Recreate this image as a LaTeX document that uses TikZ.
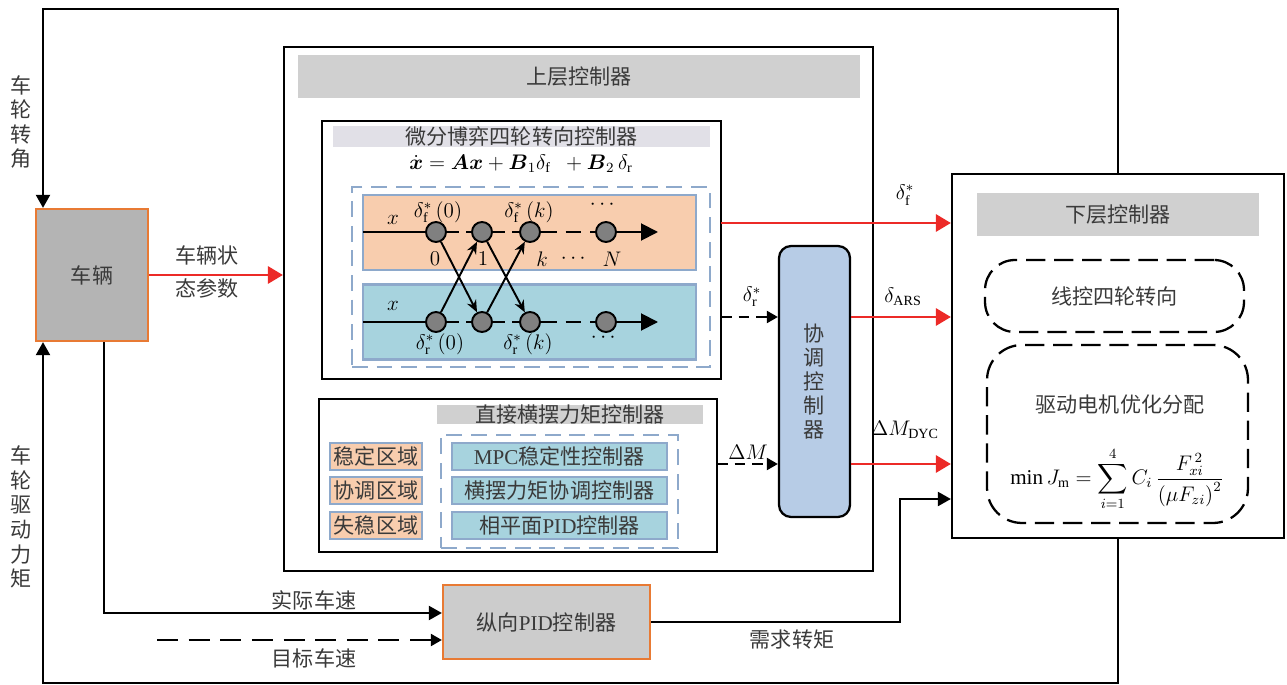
\documentclass[tikz,border=0pt]{standalone}
\usepackage{amsmath}
\usepackage{fontspec}
\setmainfont{Liberation Serif}
\newfontfamily\cjk{Noto Sans CJK SC}
\usepackage{tikz}
\usetikzlibrary{positioning,arrows.meta}

\definecolor{bargray}{HTML}{D0D0D0}
\definecolor{vehgray}{HTML}{B4B4B4}
\definecolor{pidgray}{HTML}{CCCCCC}
\definecolor{edgeorange}{HTML}{E87A34}
\definecolor{bandorange}{HTML}{F8CDAE}
\definecolor{bandblue}{HTML}{A7D3DE}
\definecolor{edgeblue}{HTML}{8EA9CB}
\definecolor{coordblue}{HTML}{B7CCE6}
\definecolor{titlelav}{HTML}{E1E0E7}
\definecolor{linered}{HTML}{EC2A27}
\definecolor{txtgray}{HTML}{3A3A3A}
\definecolor{nodegray}{HTML}{808080}

\tikzset{
  cn/.style={font=\cjk\fontsize{12}{14}\selectfont, text=txtgray},
  blk/.style={draw=black, line width=1.3pt, inner sep=0pt},
  titlebar/.style={fill=bargray, inner sep=0pt, cn},
  orbox/.style={fill=vehgray, draw=edgeorange, line width=1.3pt, cn},
  zone/.style={fill=bandorange, draw=edgeblue, line width=1.5pt, minimum width=1.84cm, minimum height=0.54cm, inner sep=0pt, cn},
  ctrl/.style={fill=bandblue, draw=edgeblue, line width=1.5pt, minimum width=4.3cm, minimum height=0.54cm, inner sep=0pt, cn},
  band/.style={draw=edgeblue, line width=1.3pt, minimum width=6.66cm, minimum height=1.5cm},
  bluedash/.style={draw=edgeblue, line width=1.3pt, dash pattern=on 9pt off 5pt},
  blackdash/.style={draw=black, line width=1.3pt, dash pattern=on 11pt off 5pt, cn},
  stage/.style={circle, fill=nodegray, draw=black, line width=1.1pt, minimum size=0.4cm, inner sep=0pt},
  sig/.style={line width=1.1pt},
  cross/.style={line width=1.1pt, -{Stealth[length=0.24cm,width=0.2cm]}},
  redsig/.style={draw=linered, line width=1.7pt, -{Triangle[length=0.3cm,width=0.34cm]}},
  fb/.style={line width=1.2pt, -{Triangle[length=0.26cm,width=0.28cm]}},
  dsh/.style={line width=1.2pt, dash pattern=on 6pt off 4pt, -{Triangle[length=0.22cm,width=0.24cm]}},
  vlbl/.style={cn, align=center, font=\cjk\fontsize{12}{14}\selectfont},
}

\begin{document}
\begin{tikzpicture}[x=0.02cm, y=-0.02cm, font=\fontsize{12}{14}\selectfont]
  \useasboundingbox (0,0) rectangle (1287,685);

  \node[orbox, minimum width=2.24cm, minimum height=2.64cm] (veh) at (92,275) {车辆};
  \node[vlbl] (steerlbl) at (21,122) {车\\轮\\转\\角};
  \node[vlbl] (drivelbl) at (21,517) {车\\轮\\驱\\动\\力\\矩};

  \node[blk, minimum width=11.78cm, minimum height=10.48cm] (upper) at (578.5,309) {};
  \node[titlebar, minimum width=11.24cm, minimum height=0.86cm] (uptitle) at (579,76.5) {上层控制器};

  \node[blk, minimum width=7.98cm, minimum height=5.16cm] (dg) at (521.5,250) {};
  \node[fill=titlelav, inner sep=0pt, cn, minimum width=7.54cm, minimum height=0.42cm] (dgtitle) at (521.5,136.5) {微分博弈四轮转向控制器};
  \node[inner sep=0pt] (dgeq) at (521,164) {$\dot{\boldsymbol{x}}=\boldsymbol{A}\boldsymbol{x}+\boldsymbol{B}_1\delta_{\mathrm f}\ \ +\boldsymbol{B}_2\,\delta_{\mathrm r}$};
  \node[bluedash, minimum width=7.16cm, minimum height=3.6cm] (dgdash) at (531,277) {};
  \node[band, fill=bandorange] (fband) at (529.5,232.5) {};
  \node[band, fill=bandblue] (rband) at (529.5,322) {};

  \coordinate (f-in) at (363,232);
  \coordinate (r-in) at (363,322);
  \coordinate (f-out) at (658,232);
  \coordinate (r-out) at (658,322);
  \foreach \n/\x in {1/436,2/482,3/530,4/606} {
    \node[stage] (f\n) at (\x,232) {};
    \node[stage] (r\n) at (\x,322) {};
  }
  \foreach \s in {f,r} {
    \draw[sig] (\s-in) -- (\s1);
    \draw[sig, dash pattern=on 7pt off 4pt] (\s1) -- (\s2);
    \draw[sig, dash pattern=on 7pt off 4pt] (\s2) -- (\s3);
    \draw[sig, dash pattern=on 9pt off 5pt] (\s3) -- (\s4);
    \draw[sig, -{Triangle[length=0.34cm,width=0.34cm]}] (\s4) -- (\s-out);
  }
  \draw[cross] (f1) -- (r2);
  \draw[cross] (r1) -- (f2);
  \draw[cross] (f2) -- (r3);
  \draw[cross] (r2) -- (f3);

  \node (xf) at (393,220) {$x$};
  \node (xr) at (393,306) {$x$};
  \node (df0) at (438,212) {$\delta_{\mathrm f}^{*}\left(0\right)$};
  \node (dfk) at (529,212) {$\delta_{\mathrm f}^{*}\left(k\right)$};
  \node (fdots) at (604,205) {$\cdots$};
  \node (s0) at (435,259) {$0$};
  \node (s1) at (483,259) {$1$};
  \node (sk) at (542,259) {$k$};
  \node (sdots) at (575,259) {$\cdots$};
  \node (sN) at (612,259) {$N$};
  \node (dr0) at (440,344) {$\delta_{\mathrm r}^{*}\left(0\right)$};
  \node (drk) at (528,344) {$\delta_{\mathrm r}^{*}\left(k\right)$};
  \node (rdots) at (605,338) {$\cdots$};

  \node[blk, minimum width=7.96cm, minimum height=3.06cm] (dyc) at (518,475.5) {};
  \node[titlebar, minimum width=5.32cm, minimum height=0.38cm] (dyctitle) at (570,414.5) {直接横摆力矩控制器};
  \node[bluedash, minimum width=4.74cm, minimum height=2.26cm] (dycdash) at (559.5,491.5) {};
  \foreach \i/\y/\z/\c in {1/456.5/稳定区域/{{\rmfamily MPC}稳定性控制器},
                          2/490.5/协调区域/{横摆力矩协调控制器},
                          3/525.5/失稳区域/{相平面{\rmfamily PID}控制器}} {
    \node[zone] (zone\i) at (376,\y) {\z};
    \node[ctrl] (ctrl\i) at (559.5,\y) {\c};
  }

  \node[fill=coordblue, draw=black, line width=1.3pt, rounded corners=0.24cm, minimum width=1.42cm,
        minimum height=5.42cm, cn, align=center, font=\cjk\fontsize{12}{13.7}\selectfont] (coord) at (814.5,381.5) {协\\调\\控\\制\\器};

  \node[blk, minimum width=6.64cm, minimum height=7.28cm] (lower) at (1118,356) {};
  \node[titlebar, minimum width=5.64cm, minimum height=0.86cm] (lowtitle) at (1118,214.5) {下层控制器};
  \node[blackdash, rounded corners=0.6cm, minimum width=5.18cm, minimum height=1.44cm] (sw) at (1114.5,296) {线控四轮转向};
  \node[blackdash, rounded corners=0.7cm, minimum width=5.22cm, minimum height=3.56cm] (motor) at (1117.5,434) {};
  \node[cn, inner sep=0pt] (motortxt) at (1120,405) {驱动电机优化分配};
  \node[inner sep=0pt] (cost) at (1117,479) {$\displaystyle \min J_{\mathrm m}=\sum_{i=1}^{4}C_i\,\frac{F_{xi}^{\,2}}{\left(\mu F_{zi}\right)^{2}}$};

  \node[orbox, fill=pidgray, minimum width=4.14cm, minimum height=1.48cm] (pid) at (546.5,622) {纵向{\rmfamily PID}控制器};

  \draw[redsig] (veh.east) -- (veh.east -| upper.west);
  \node[cn, align=left, font=\cjk\fontsize{12}{18.8}\selectfont] (vehstate) at (207,272) {车辆状\\态参数};

  \coordinate (df) at (721,223);
  \coordinate (dr) at (721,317);
  \coordinate (dm) at (717,464);
  \draw[redsig] (df) -- (df -| lower.west);
  \draw[dsh] (dr) -- (dr -| coord.west);
  \draw[dsh] (dm) -- (dm -| coord.west);
  \draw[redsig] (coord.east |- dr) -- (dr -| lower.west);
  \draw[redsig] (coord.east |- dm) -- (dm -| lower.west);
  \node (lf) at (905,195) {$\delta_{\mathrm f}^{*}$};
  \node (lr) at (752,297) {$\delta_{\mathrm r}^{*}$};
  \node (lars) at (903,297) {$\delta_{\mathrm{ARS}}$};
  \node (ldm) at (748,452) {$\Delta M$};
  \node (ldyc) at (905,430) {$\Delta M_{\mathrm{DYC}}$};

  \coordinate (topL) at (43,9);
  \coordinate (botL) at (43,683);
  \draw[fb] (lower.north) |- (topL) -- (topL |- veh.north);
  \draw[fb] (lower.south) |- (botL) -- (botL |- veh.south);

  \coordinate (vs) at (104,613);
  \coordinate (tgt) at (157,640);
  \coordinate (tq) at (900,499);
  \draw[fb] (veh.south -| vs) -- (vs) -- (vs -| pid.west);
  \draw[dsh, dash pattern=on 12pt off 6pt] (tgt) -- (tgt -| pid.west);
  \draw[fb] (pid.east) -| (tq) -- (tq -| lower.west);
  \node[cn] (actspd) at (314,600) {实际车速};
  \node[cn] (tgtspd) at (314,658) {目标车速};
  \node[cn] (demtq) at (792,640) {需求转矩};
\end{tikzpicture}
\end{document}
